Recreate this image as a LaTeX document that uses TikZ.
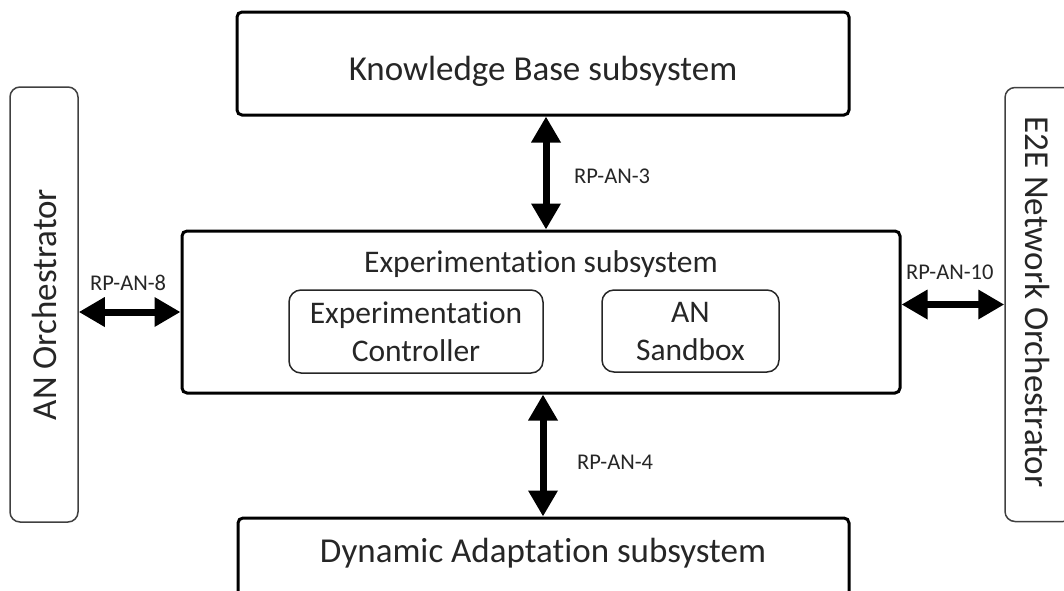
\documentclass[tikz,border=0pt]{standalone}
\usepackage{fontspec}
\setmainfont{Carlito}[Ligatures={NoCommon}]
\usetikzlibrary{arrows.meta}

\begin{document}
\begin{tikzpicture}[x=1pt,y=-1pt,
  txt/.style={text=black!85, inner sep=0pt},
  bigfont/.style={font=\fontsize{35}{42}\selectfont},
  midfont/.style={font=\fontsize{31.5}{38}\selectfont},
  lblfont/.style={font=\fontsize{22.5}{26}\selectfont},
  subsys/.style={draw=black, line width=3pt, rounded corners=5pt, txt},
  innerbox/.style={draw=black!85, line width=1.5pt, rounded corners=12pt, txt, align=center},
  sidebox/.style={draw=black!75, line width=1.5pt, rounded corners=10pt, txt},
  biarrow/.style={line width=7pt, black,
    {Triangle[width=28pt,length=26pt]}-{Triangle[width=28pt,length=26pt]}},
  rplabel/.style={txt, lblfont},
]
\useasboundingbox (0,0) rectangle (1064,590);
\clip (0,0) rectangle (1064,590);

% subsystems
\node[subsys, minimum width=612pt, minimum height=103pt] (kb) at (543,63.5) {};
\node[txt, bigfont, anchor=base] (kbtitle) at (543,80) {Knowledge Base subsystem};
\node[subsys, minimum width=718pt, minimum height=162pt] (exp) at (541,312) {};
\node[txt, midfont, anchor=base] (exptitle) at (541,272) {Experimentation subsystem};
\node[innerbox, midfont, minimum width=254pt, minimum height=83pt] (ctrl) at (416,331.5)
  {Experimentation\\Controller};
\node[innerbox, midfont, minimum width=177pt, minimum height=82pt] (sandbox) at (690.5,331)
  {AN\\Sandbox};
\node[subsys, minimum width=611pt, minimum height=103pt] (dyn) at (543.5,569.5) {};
\node[txt, bigfont, anchor=base] (dyntitle) at (543,562) {Dynamic Adaptation subsystem};

% orchestrators at the sides
\node[sidebox, minimum width=68pt, minimum height=435pt] (anorch) at (44,304.5) {};
\node[txt, bigfont, rotate=90] (anorchtxt) at (44,304.5) {AN Orchestrator};
\node[sidebox, minimum width=68pt, minimum height=434pt] (e2e) at (1039,304.5) {};
\node[txt, bigfont, rotate=-90] (e2etxt) at (1038,302) {E2E Network Orchestrator};

% reference points
\draw[biarrow] ([xshift=3pt]kb.south) -- ([xshift=5pt]exp.north);
\draw[biarrow] ([xshift=2pt]exp.south) -- ([xshift=-0.5pt]dyn.north);
\draw[biarrow] (anorch.east |- exp.west) -- (exp.west);
\draw[biarrow] (exp.east |- e2e.west) -- (e2e.west);

\node[rplabel, anchor=west] (rp3) at (574,176) {RP-AN-3};
\node[rplabel, anchor=west] (rp4) at (577,462) {RP-AN-4};
\node[rplabel, anchor=west] (rp8) at (90,283) {RP-AN-8};
\node[rplabel, anchor=west] (rp10) at (906,272) {RP-AN-10};
\end{tikzpicture}
\end{document}
